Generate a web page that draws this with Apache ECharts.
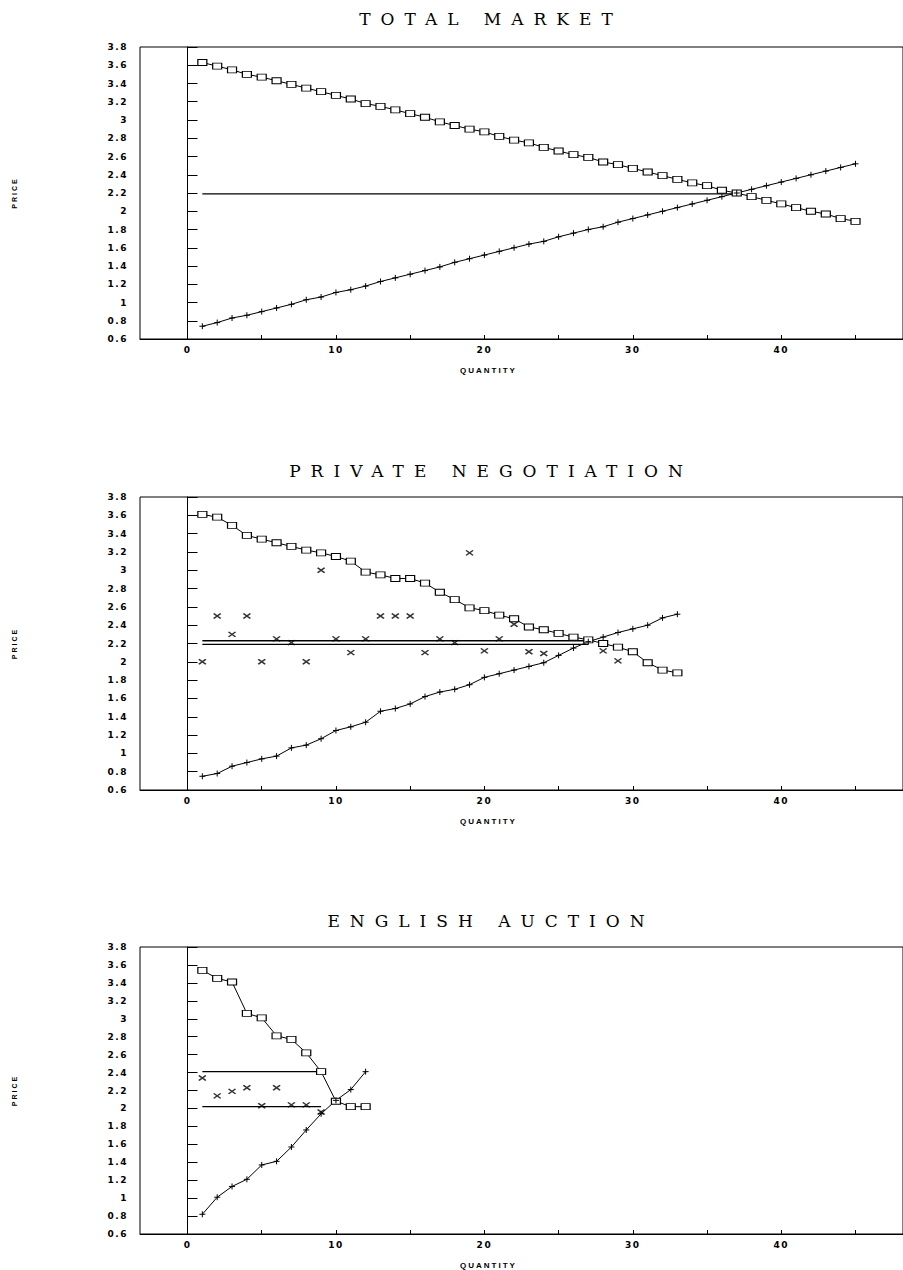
<!DOCTYPE html>
<html><head><meta charset="utf-8">
<script src="https://cdn.jsdelivr.net/npm/echarts@6/dist/echarts.min.js"></script>
<style>
html,body{margin:0;padding:0;background:#fff;}
#c{width:903px;height:1270px;}
#c text[style*="DejaVu Serif"]{letter-spacing:10px;}
#c text[style*="DejaVu Sans"]{letter-spacing:1.5px;}
#c text[style*="Liberation Sans"]{letter-spacing:2px;}
</style></head><body><div id="c"></div>
<script>
// ---- text ----
const titles = ['TOTAL MARKET', 'PRIVATE NEGOTIATION', 'ENGLISH AUCTION'];
const xName = 'QUANTITY';
const yName = 'PRICE';
const xTickValues = [0, 5, 10, 15, 20, 25, 30, 35, 40, 45];
const xLabelValues = [0, 10, 20, 30, 40];

// ---- TOTAL MARKET ----
const totalDemand = [3.63,3.59,3.55,3.50,3.47,3.43,3.39,3.35,3.31,3.27,3.23,3.18,3.15,3.11,3.07,3.03,2.98,2.94,2.90,2.87,2.82,2.78,2.75,2.70,2.66,2.62,2.59,2.54,2.51,2.47,2.43,2.39,2.35,2.31,2.28,2.23,2.20,2.16,2.12,2.08,2.04,2.00,1.97,1.92,1.89];
const totalSupply = [0.74,0.78,0.83,0.86,0.90,0.94,0.98,1.03,1.06,1.11,1.14,1.18,1.23,1.27,1.31,1.35,1.39,1.44,1.48,1.52,1.56,1.60,1.64,1.67,1.72,1.76,1.80,1.83,1.88,1.92,1.96,2.00,2.04,2.08,2.12,2.16,2.20,2.24,2.28,2.32,2.36,2.40,2.44,2.48,2.52];
const totalBandQty = [1, 37];
const totalBandPrices = [2.19];
const totalTradeQty = [];
const totalTradePrice = [];

// ---- PRIVATE NEGOTIATION ----
const privDemand = [3.61,3.58,3.49,3.38,3.34,3.30,3.26,3.22,3.19,3.15,3.10,2.98,2.95,2.91,2.91,2.86,2.76,2.68,2.59,2.56,2.51,2.47,2.38,2.35,2.31,2.27,2.24,2.20,2.16,2.11,1.99,1.91,1.88];
const privSupply = [0.75,0.78,0.86,0.90,0.94,0.97,1.06,1.09,1.16,1.25,1.29,1.34,1.46,1.49,1.54,1.62,1.67,1.70,1.75,1.83,1.87,1.91,1.95,1.99,2.07,2.15,2.22,2.27,2.32,2.36,2.40,2.48,2.52];
const privBandQty = [1, 27];
const privBandPrices = [2.23, 2.19];
const privTradeQty   = [1,2,3,4,5,6,7,8,9,10,11,12,13,14,15,16,17,18,19,20,21,22,23,24,28,29];
const privTradePrice = [2.00,2.50,2.30,2.50,2.00,2.25,2.21,2.00,3.00,2.25,2.10,2.25,2.50,2.50,2.50,2.10,2.25,2.21,3.19,2.12,2.25,2.41,2.11,2.09,2.12,2.01];

// ---- ENGLISH AUCTION ----
const engDemand = [3.54,3.45,3.41,3.06,3.01,2.81,2.77,2.62,2.41,2.08,2.02,2.02];
const engSupply = [0.82,1.01,1.13,1.21,1.37,1.41,1.57,1.76,1.94,2.09,2.21,2.41];
const engBandQty = [1, 9];
const engBandPrices = [2.41, 2.02];
const engTradeQty   = [1,2,3,4,5,6,7,8,9];
const engTradePrice = [2.34,2.14,2.19,2.23,2.03,2.23,2.04,2.04,1.96];

const panels = [
  {demand: totalDemand, supply: totalSupply, bandQty: totalBandQty, bands: totalBandPrices, tq: totalTradeQty, tp: totalTradePrice},
  {demand: privDemand, supply: privSupply, bandQty: privBandQty, bands: privBandPrices, tq: privTradeQty, tp: privTradePrice},
  {demand: engDemand, supply: engSupply, bandQty: engBandQty, bands: engBandPrices, tq: engTradeQty, tp: engTradePrice}
];

const gridTops = [47, 497, 947];
const gridHeights = [292, 293, 290];
const titleY = [19, 471, 921];

const chart = echarts.init(document.getElementById('c'), null, {renderer: 'svg'});
const INK = '#000';
const PLUS = 'path://M0,5L10,5M5,0L5,10';
const CROSS = 'path://M0,0L10,10M10,0L0,10';

const grid = [], xAxis = [], yAxis = [], series = [], graphic = [];
panels.forEach((p, i) => {
  grid.push({left: 140, right: -2, top: gridTops[i], height: gridHeights[i], show: true, borderColor: INK, borderWidth: 1, backgroundColor: 'transparent'});
  xAxis.push({
    type: 'value', gridIndex: i, min: -3.2, max: 48.2,
    name: xName, nameLocation: 'middle', nameGap: 27,
    nameTextStyle: {fontFamily: 'Liberation Sans', fontWeight: 'bold', fontSize: 8, color: INK, padding: [0, 66, 0, 0]},
    axisLine: {show: true, lineStyle: {color: INK, width: 1}},
    axisTick: {show: true, inside: true, length: 4, lineStyle: {color: INK}, customValues: xTickValues},
    axisLabel: {color: INK, fontFamily: 'DejaVu Sans', fontWeight: 'bold', fontSize: 9, margin: 6, customValues: xLabelValues},
    splitLine: {show: false}
  });
  yAxis.push({
    type: 'value', gridIndex: i, min: 0.6, max: 3.8, interval: 0.2,
    name: yName, nameLocation: 'middle', nameGap: 122, nameRotate: 90,
    nameTextStyle: {fontFamily: 'Liberation Sans', fontWeight: 'bold', fontSize: 7, color: INK},
    axisLine: {show: true, lineStyle: {color: INK, width: 1}},
    axisTick: {show: true, inside: true, length: 10, lineStyle: {color: INK}},
    axisLabel: {color: INK, fontFamily: 'DejaVu Sans', fontWeight: 'bold', fontSize: 9, margin: 12},
    splitLine: {show: false}
  });
  series.push({
    type: 'line', xAxisIndex: i, yAxisIndex: i, name: 'demand' + i,
    data: p.demand.map((v, k) => [k + 1, v]),
    symbol: 'rect', symbolSize: [9, 6], showSymbol: true,
    itemStyle: {color: '#fff', borderColor: INK, borderWidth: 1},
    lineStyle: {color: INK, width: 1}, animation: false, silent: true,
    markLine: {symbol: 'none', silent: true, animation: false, label: {show: false},
      lineStyle: {color: INK, width: 1, type: 'solid'}, data: [{xAxis: 0}]}
  });
  series.push({
    type: 'line', xAxisIndex: i, yAxisIndex: i, name: 'supply' + i,
    data: p.supply.map((v, k) => [k + 1, v]),
    symbol: PLUS, symbolSize: 6, showSymbol: true,
    itemStyle: {color: INK, borderColor: INK, borderWidth: 1},
    lineStyle: {color: INK, width: 1}, animation: false, silent: true
  });
  p.bands.forEach((b, j) => {
    series.push({
      type: 'line', xAxisIndex: i, yAxisIndex: i, name: 'band' + i + '_' + j,
      data: p.bandQty.map(q => [q, b]), symbol: 'none',
      lineStyle: {color: INK, width: 1.3}, animation: false, silent: true
    });
  });
  if (p.tq.length) {
    series.push({
      type: 'scatter', xAxisIndex: i, yAxisIndex: i, name: 'trades' + i,
      data: p.tq.map((q, k) => [q, p.tp[k]]),
      symbol: CROSS, symbolSize: [7, 5],
      itemStyle: {color: INK, borderColor: INK, borderWidth: 1.5},
      animation: false, silent: true
    });
  }
  graphic.push({
    type: 'text', x: 491, y: titleY[i], silent: true,
    style: {text: titles[i], fill: INK, font: '17px "DejaVu Serif"', textAlign: 'center', textVerticalAlign: 'middle'}
  });
});

chart.setOption({animation: false, backgroundColor: '#fff', grid, xAxis, yAxis, series, graphic});
</script></body></html>
